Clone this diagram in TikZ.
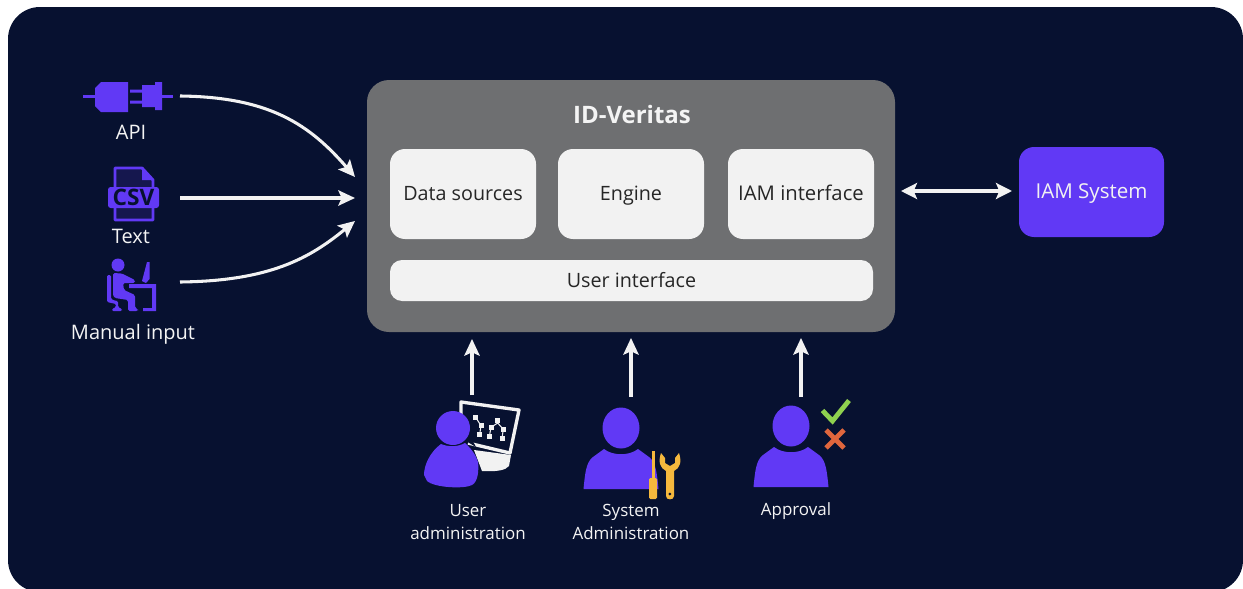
\documentclass[tikz,border=0pt]{standalone}
\usepackage{fontspec}
\setmainfont{Open Sans}
\usetikzlibrary{arrows.meta}
\definecolor{navy}{HTML}{071130}
\definecolor{violet}{HTML}{6139F5}
\definecolor{slate}{HTML}{6E6F71}
\definecolor{pale}{HTML}{F2F2F2}
\definecolor{txt}{HTML}{F4F4F4}
\definecolor{gold}{HTML}{F5B83D}
\definecolor{okgreen}{HTML}{8FD14F}
\definecolor{nored}{HTML}{E0663D}
\tikzset{
  x=0.75pt,y=-0.75pt,
  panelbox/.style={rounded corners=11.25pt,fill=pale,draw=none,inner sep=0pt,text=black!85,text height=10pt,text depth=0pt,font=\fontsize{14.8}{17}\selectfont},
  cardbox/.style={panelbox,minimum width=109.5pt,minimum height=67.5pt},
  flow/.style={draw=pale,line width=2.3pt,-{Stealth[length=12.5pt,width=11.5pt,inset=2.5pt]}},
  twoway/.style={draw=pale,line width=2.3pt,{Stealth[length=12pt,width=12pt,inset=2.5pt]}-{Stealth[length=12pt,width=12pt,inset=2.5pt]}},
  lab/.style={text=txt,inner sep=0pt,align=center,font=\fontsize{15}{17.6}\selectfont},
  sublab/.style={text=txt,inner sep=0pt,align=center,font=\fontsize{12.7}{17.6}\selectfont},
}
\newcommand{\bustshape}{%
  \fill[violet] (0,-61) ellipse [x radius=18.5,y radius=20.5];
  \fill[violet] (-37.5,0) .. controls (-36,-15) and (-35,-27) .. (-28,-32) -- (-17,-40)
    .. controls (-8,-33) and (8,-33) .. (17,-40) -- (28,-32)
    .. controls (35,-27) and (36,-15) .. (37.5,0) -- cycle;
}
\begin{document}
\begin{tikzpicture}
\path[clip,use as bounding box] (0,0) rectangle (1243,589);
\fill[white] (0,0) rectangle (1243,589);
\fill[navy,rounded corners=24pt] (8,7) rectangle (1243,592);

% main block
\node[panelbox,fill=slate,rounded corners=16.5pt,minimum width=396pt,minimum height=189pt] (main) at (631,206) {};
\node[text=txt,inner sep=0pt,font=\fontsize{18}{20}\selectfont\bfseries] (title) at (632,114) {ID-Veritas};
\node[cardbox] (sources) at (463,194) {Data sources};
\node[cardbox] (engine) at (631,194) {Engine};
\node[cardbox,font=\fontsize{15.2}{17}\selectfont] (iamif) at (801,194) {IAM interface};
\node[panelbox,rounded corners=9pt,minimum width=362.25pt,minimum height=30.75pt] (ui) at (631.5,280.5) {User interface};
\node[panelbox,fill=violet,text=pale,font=\fontsize{15.4}{17}\selectfont,minimum width=108.75pt,minimum height=67.5pt] (iam) at (1091.5,192) {IAM System};

% input labels
\node[lab] (apilab) at (131,132) {API};
\node[lab] (textlab) at (131,236) {Text};
\node[lab] (manlab) at (133,334) {Manual input};
\node[sublab] (uadm) at (468,522) {User\\administration};
\node[sublab] (sadm) at (631,522) {System\\Administration};
\node[sublab] (appr) at (796,511) {Approval};

% plug icon
\fill[violet] (83,94.5) rectangle (96,97.5);
\fill[violet] (95,88) -- (101,82) -- (128,82) -- (128,112) -- (101,112) -- (95,106) -- cycle;
\fill[violet] (130,89.5) rectangle (143,92.5) (130,100.5) rectangle (143,103.5);
\fill[violet] (142,85) rectangle (156,107) (155,82) rectangle (162,110);
\fill[violet] (161,94.5) rectangle (173,97.5);

% csv icon
\draw[violet,line width=2.2pt,fill=navy!85!violet,line join=round] (115,168) -- (142,168) -- (153,180) -- (153,220) -- (115,220) -- cycle;
\fill[violet] (142,168) -- (153,180) -- (142,180) -- cycle;
\fill[violet,rounded corners=2pt] (108,187) rectangle (159,208);
\node[text=navy,inner sep=0pt,font=\fontsize{17}{18}\selectfont\bfseries] (csv) at (133.5,197.5) {CSV};

% desk worker icon
\fill[violet] (118,265) circle (6.5);
\fill[violet,rounded corners=1.2pt] (113,273) -- (122,273.5) -- (135,280) -- (135,283) -- (123,283) -- (124,290) -- (135,295) -- (135,308) -- (138,309) -- (138,311) -- (128,311) -- (128,300) -- (115,298) -- (113,296) -- cycle;
\fill[violet,rounded corners=1pt] (107,275) -- (111,275) -- (111,299) -- (116,301) -- (118,301) -- (118,307) -- (122,309) -- (122,311) -- (112,311) -- (112,309) -- (116,307) -- (116,304) -- (107,302) -- cycle;
\fill[violet] (129,284) -- (156,284) -- (156,311) -- (143,311) -- (143,308) -- (152,308) -- (152,288) -- (129,288) -- cycle;
\fill[violet] (142,281) -- (147,262) -- (149.5,262) -- (149.5,279) -- (146,283) -- cycle;

% user administration icon
\draw[pale,line width=2.5pt,line join=round] (461,420) -- (461,402) -- (519,410) -- (510,453) -- (468,443);
\fill[pale] (474,450) -- (511,455) -- (509,466) .. controls (506,470) and (497,472) .. (482,471) -- cycle;
\draw[pale,line width=0.8pt] (475.7,417.3) -- (481,425.7) -- (479.7,434.3) (491,427.3) -- (497.7,423) -- (503.3,429.3) (497.7,420) -- (497.7,423) (491,427.3) -- (489.3,436.7) (503.3,429.3) -- (502,438.3);
\foreach \qx/\qy in {475.7/417.3,481/425.7,479.7/434.3,497.7/420,491/427.3,503.3/429.3,489.3/436.7,502/438.3}
  \fill[pale] (\qx-2.5,\qy-2.5) rectangle (\qx+2.5,\qy+2.5);
\fill[navy] (476,447) -- (466,441) -- (470,436) -- cycle;
\fill[violet] (453,428) circle (17);
\fill[violet] (441,444) .. controls (430,452) and (424,465) .. (424,475) -- (427,481)
  .. controls (435,488) and (465,489) .. (472,485)
  .. controls (478,482) and (479,470) .. (478,462)
  .. controls (475,452) and (468,446) .. (465,443)
  .. controls (458,447) and (448,447) .. (441,444) -- cycle;

% system administration icon
\begin{scope}[shift={(621,489)}]
\bustshape
\end{scope}
\fill[gold] (651.5,451) rectangle (655,479);
\fill[gold,rounded corners=1pt] (649,478) rectangle (657,499);
\fill[gold] (661,453) .. controls (658,462) and (660,468) .. (666,471) -- (666,496)
  .. controls (666,500.5) and (674,500.5) .. (674,496) -- (674,471)
  .. controls (680,468) and (682,462) .. (679,453) -- (675,458) -- (675,463) -- (670,466) -- (665,463) -- (665,458) -- cycle;
\fill[navy] (669.8,494) circle (1.5);

% approval icon
\begin{scope}[shift={(791,487)}]
\bustshape
\end{scope}
\draw[okgreen,line width=3.6pt] (822.5,410.5) -- (832.5,421) -- (849,400.5);
\draw[nored,line width=3.6pt] (826,430) -- (844,448) (844,430) -- (826,448);

% connector ends
\coordinate (a1) at (180,96);
\coordinate (a2) at (355,177);
\coordinate (t1) at (180,198);
\coordinate (t2) at (355,198);
\coordinate (m1) at (180,282);
\coordinate (m2) at (355,221);
\coordinate (i1) at (901,191);
\coordinate (i2) at (1012,191);
\coordinate (u1) at (472,395);
\coordinate (u2) at (472,339);
\coordinate (s1) at (631,397);
\coordinate (s2) at (631,338);
\coordinate (p1) at (801,397);
\coordinate (p2) at (801,338);

\draw[flow] (a1) .. controls (270,97) and (310,125) .. (a2);
\draw[flow] (t1) -- (t2);
\draw[flow] (m1) .. controls (270,281) and (310,258) .. (m2);
\draw[twoway] (i1) -- (i2);
\draw[flow] (u1) -- (u2);
\draw[flow] (s1) -- (s2);
\draw[flow] (p1) -- (p2);
\end{tikzpicture}
\end{document}
